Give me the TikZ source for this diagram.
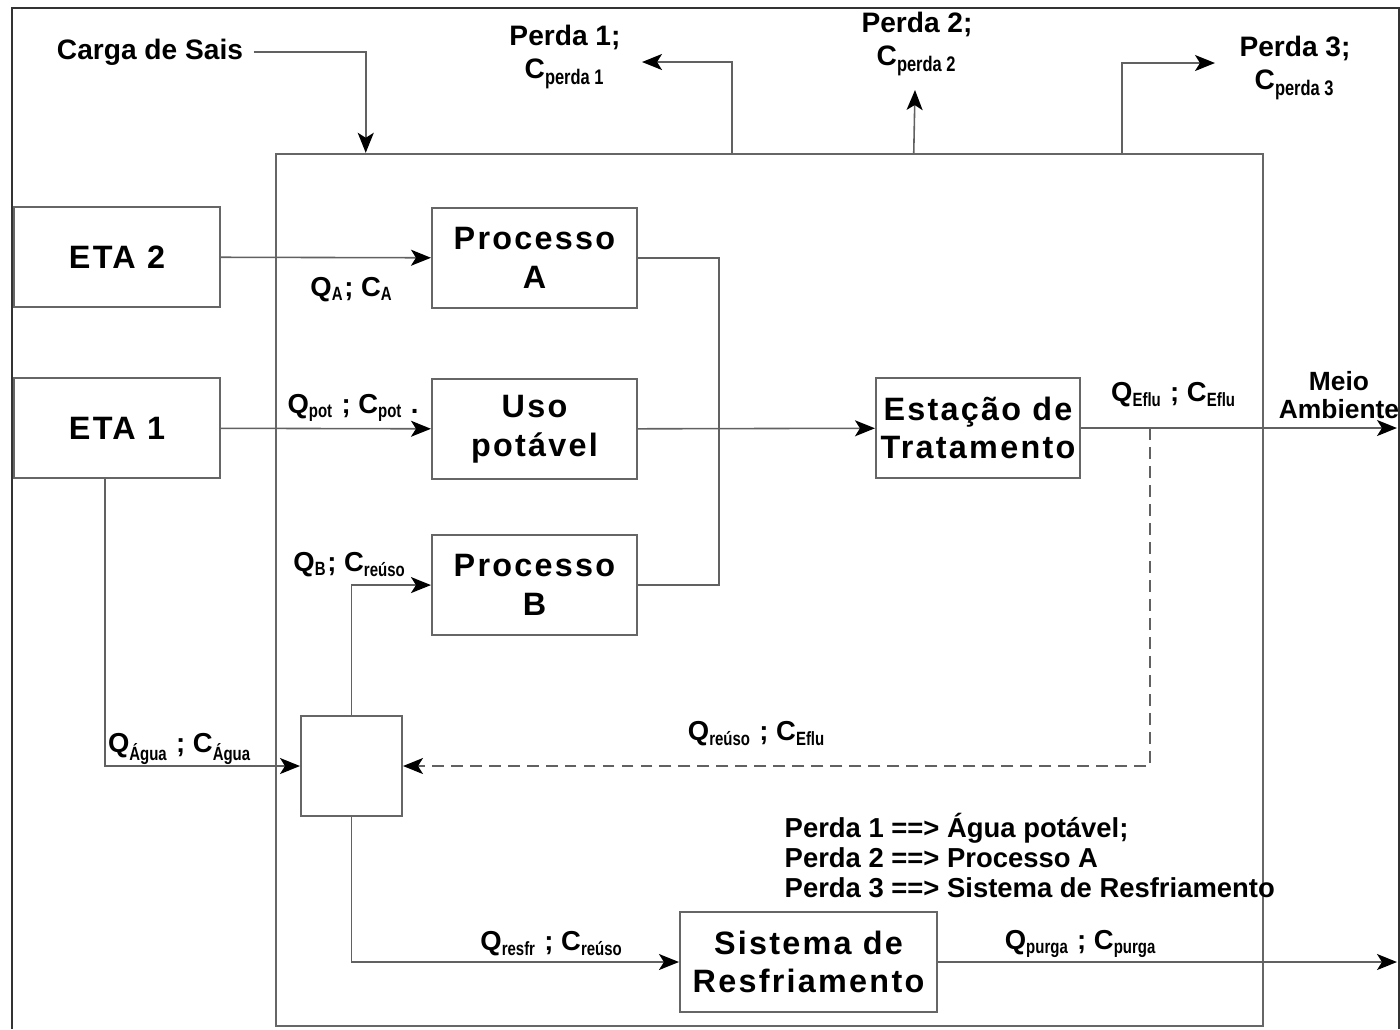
\documentclass[tikz,border=0pt]{standalone}
\usepackage{fontspec}
\usepackage{graphicx}
\setmainfont{Liberation Sans}
\newfontfamily\boxfont[LetterSpace=7]{Liberation Sans}
\usetikzlibrary{arrows.meta,positioning,calc}
\newcommand{\csub}[1]{\textsubscript{\scalebox{0.78}[1]{#1}}}
\tikzset{
	unitbox/.style={rectangle, draw=black!60, line width=0.55pt, minimum width=2.05cm, minimum height=1cm,
		inner sep=0pt, align=center, font=\boxfont\bfseries\fontsize{9.2}{11}\selectfont},
	flowline/.style={draw=black!62, line width=0.45pt},
	flowarr/.style={flowline, -{Stealth[length=2mm, width=1.6mm, inset=0.5mm, color=black]}},
	flowlbl/.style={inner sep=0pt, font=\bfseries\fontsize{7.8}{9}\selectfont},
	outlbl/.style={inner sep=0pt, align=center, font=\bfseries\fontsize{8}{9.4}\selectfont}
}

\begin{document}
\begin{tikzpicture}[x=0.01cm, y=-0.01cm]
	\useasboundingbox (0,0) rectangle (1400,1029);
	\draw[black!80, line width=0.6pt] (12,1029) -- (12,8) -- (1399,8) -- (1399,1029);
	% system boundary
	\node[draw=black!60, line width=0.55pt, minimum width=9.87cm, minimum height=8.72cm, inner sep=0pt] (sys) at (769.5,590) {};
	% units
	\node[unitbox, minimum width=2.06cm] (eta2) at (117,257) {ETA 2};
	\node[unitbox, minimum width=2.06cm, below=0.69cm of eta2] (eta1) {ETA 1};
	\node[unitbox] (procA) at (534.5,258) {Processo\\A};
	\node[unitbox, below=0.69cm of procA] (uso) {Uso\\potável};
	\node[unitbox, below=0.54cm of uso] (procB) {Processo\\B};
	\node[unitbox, minimum width=2.04cm] (est) at (978,428) {Estação de\\Tratamento};
	\node[unitbox, minimum width=1.01cm] (mix) at (351.5,766) {};
	\node[unitbox, minimum width=2.57cm] (sis) at (808.5,962) {Sistema de\\Resfriamento};
	% flows
	\draw[flowarr] (eta2) -- (procA);
	\draw[flowarr] (eta1) -- (uso);
	\draw[flowline] (procA.east) -- ++(81,0) |- (procB.east);
	\draw[flowarr] (uso) -- (est);
	\coordinate (meio) at (1397,428);
	\draw[flowarr] (est) -- (meio);
	\coordinate (tap) at (1150,428);
	\draw[flowarr, dash pattern=on 3.4pt off 2pt] (tap) |- (mix.east);
	\draw[flowarr] ($(eta1.south)+(-12,0)$) |- (mix.west);
	\draw[flowarr] (mix.north) |- (procB.west);
	\draw[flowarr] (mix.south) |- (sis.west);
	\coordinate (purga) at (1397,962);
	\draw[flowarr] (sis) -- (purga);
	% inputs and losses
	\node[outlbl] (carga) at (150,52) {Carga de Sais};
	\draw[flowarr] (carga.east) ++(10,0) -| ($(sys.north west)+(91,0)$);
	\node[outlbl] (perda1) at (565,57) {Perda 1;\\C\csub{perda 1}};
	\node[outlbl] (perda2) at (917,44) {Perda 2;\\C\csub{perda 2}};
	\node[outlbl] (perda3) at (1295,68) {Perda 3;\\C\csub{perda 3}};
	\coordinate (p1end) at (642,62);
	\coordinate (p2end) at (915,90);
	\coordinate (p3end) at (1215,63);
	\draw[flowarr] ($(sys.north west)+(457,0)$) |- (p1end);
	\draw[flowarr] ($(sys.north west)+(639,0)$) -- (p2end);
	\draw[flowarr] ($(sys.north west)+(847,0)$) |- (p3end);
	\node[outlbl, font=\bfseries\fontsize{7.5}{8}\selectfont] (ambiente) at (1339,395) {Meio\\Ambiente};
	% stream labels
	\node[flowlbl] (lblA) at (352,290) {Q\csub{A}; C\csub{A}};
	\node[flowlbl] (lblPot) at (353,408) {Q\csub{pot} ; C\csub{pot} .};
	\node[flowlbl] (lblB) at (350,565) {Q\csub{B}; C\csub{reúso}};
	\node[flowlbl] (lblAgua) at (180,749) {Q\csub{Água} ; C\csub{Água}};
	\node[flowlbl] (lblReuso) at (757,734) {Q\csub{reúso} ; C\csub{Eflu}};
	\node[flowlbl] (lblResfr) at (552,944) {Q\csub{resfr} ; C\csub{reúso}};
	\node[flowlbl] (lblPurga) at (1081,944) {Q\csub{purga} ; C\csub{purga}};
	\node[flowlbl] (lblEflu) at (1174,395) {Q\csub{Eflu} ; C\csub{Eflu}};
	% legend
	\node[outlbl, align=left, anchor=north west, font=\bfseries\fontsize{7.8}{8.6}\selectfont] (legenda) at (784,812)
		{Perda 1 ==> Água potável;\\Perda 2 ==> Processo A\\Perda 3 ==> Sistema de Resfriamento};
\end{tikzpicture}
\end{document}
